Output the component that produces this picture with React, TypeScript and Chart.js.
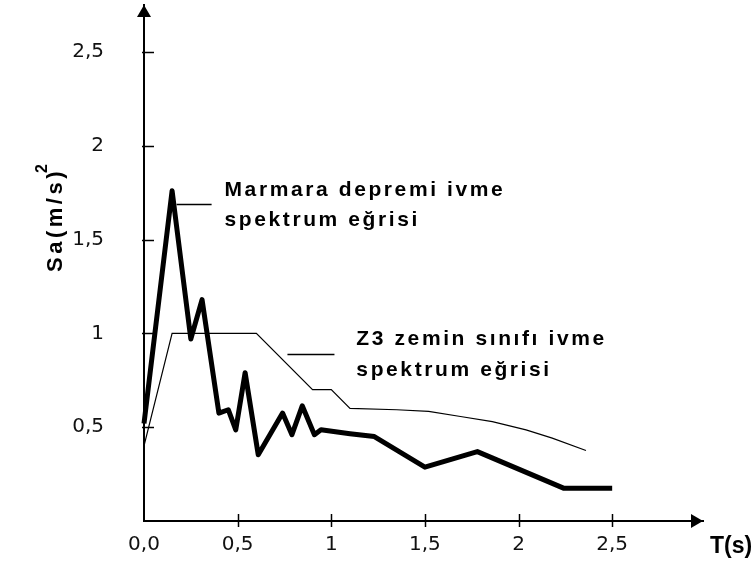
import React, { useEffect, useRef } from "react";
import { Chart, registerables } from "chart.js";

Chart.register(...registerables);

// ---- data ----
const periodsMarmara = [0, 0.15, 0.25, 0.31, 0.4, 0.45, 0.49, 0.54, 0.61, 0.74, 0.79, 0.845, 0.91, 0.945, 1.1, 1.23, 1.5, 1.78, 2.24, 2.5];
const saMarmara = [0.52, 1.76, 0.97, 1.18, 0.575, 0.593, 0.486, 0.79, 0.353, 0.575, 0.46, 0.614, 0.46, 0.486, 0.465, 0.45, 0.287, 0.37, 0.175, 0.175];
const periodsZ3 = [0, 0.15, 0.6, 0.9, 1.0, 1.1, 1.35, 1.52, 1.69, 1.86, 2.04, 2.18, 2.36];
const saZ3 = [0.4, 1.0, 1.0, 0.7, 0.7, 0.6, 0.593, 0.584, 0.557, 0.53, 0.486, 0.442, 0.376];

const xTicks = [0, 0.5, 1, 1.5, 2, 2.5];
const xTickLabels = ["0,0", "0,5", "1", "1,5", "2", "2,5"];
const yTicks = [0.5, 1, 1.5, 2, 2.5];
const yTickLabels = ["0,5", "1", "1,5", "2", "2,5"];

const marmaraLabel = ["Marmara depremi ivme", "spektrum eğrisi"];
const z3Label = ["Z3 zemin sınıfı ivme", "spektrum eğrisi"];
const xTitle = "T(s)";
const yTitle = "Sa(m/s)";
const yTitleSup = "2";

const BOLD = '"Liberation Sans", Arial, sans-serif';

const decorPlugin = {
  id: "decor",
  afterDraw(chart: any) {
    const ctx = chart.ctx as CanvasRenderingContext2D;
    const xs = chart.scales.x;
    const ys = chart.scales.y;
    const area = chart.chartArea;
    const x0 = area.left;
    const y0 = area.bottom;
    ctx.save();
    ctx.strokeStyle = "#000";
    ctx.fillStyle = "#000";
    ctx.lineWidth = 1.5;
    // tick marks
    xTicks.forEach((v) => {
      if (v === 0) return;
      const px = Math.round(xs.getPixelForValue(v)) + 0.5;
      ctx.beginPath();
      ctx.moveTo(px, y0 - 7);
      ctx.lineTo(px, y0 + 6);
      ctx.stroke();
    });
    yTicks.forEach((v) => {
      const py = Math.round(ys.getPixelForValue(v)) + 0.5;
      ctx.beginPath();
      ctx.moveTo(x0 - 2, py);
      ctx.lineTo(x0 + 10, py);
      ctx.stroke();
    });
    // arrow heads
    ctx.beginPath();
    ctx.moveTo(x0, area.top);
    ctx.lineTo(x0 - 7, area.top + 12);
    ctx.lineTo(x0 + 7, area.top + 12);
    ctx.closePath();
    ctx.fill();
    ctx.beginPath();
    ctx.moveTo(area.right, y0);
    ctx.lineTo(area.right - 12, y0 - 7);
    ctx.lineTo(area.right - 12, y0 + 7);
    ctx.closePath();
    ctx.fill();

    // leader lines
    ctx.lineWidth = 1.5;
    const lead = (xa: number, xb: number, yv: number) => {
      const py = Math.round(ys.getPixelForValue(yv)) + 0.5;
      ctx.beginPath();
      ctx.moveTo(xs.getPixelForValue(xa), py);
      ctx.lineTo(xs.getPixelForValue(xb), py);
      ctx.stroke();
    };
    lead(0.174, 0.361, 1.69);
    lead(0.766, 1.017, 0.891);

    // annotation text
    ctx.font = `bold 21px ${BOLD}`;
    (ctx as any).letterSpacing = "2.6px";
    ctx.textAlign = "left";
    ctx.textBaseline = "alphabetic";
    const txt = (lines: string[], xv: number, yv1: number, yv2: number) => {
      const px = xs.getPixelForValue(xv);
      ctx.fillText(lines[0], px, ys.getPixelForValue(yv1));
      ctx.fillText(lines[1], px, ys.getPixelForValue(yv2));
    };
    txt(marmaraLabel, 0.43, 1.733, 1.573);
    txt(z3Label, 1.134, 0.939, 0.773);

    // x title
    (ctx as any).letterSpacing = "0px";
    ctx.font = `bold 23px ${BOLD}`;
    ctx.fillText(xTitle, area.right + 7, y0 + 32);

    // y title (rotated), left of the tick labels
    ctx.save();
    ctx.translate(62, 272);
    ctx.rotate(-Math.PI / 2);
    ctx.font = `bold 22px ${BOLD}`;
    (ctx as any).letterSpacing = "3.5px";
    ctx.fillText(yTitle, 0, 0);
    const w = ctx.measureText(yTitle).width;
    ctx.font = `bold 16px ${BOLD}`;
    ctx.fillText(yTitleSup, w - 5, -15);
    ctx.restore();

    ctx.restore();
  },
};

export default function App() {
  const ref = useRef<HTMLCanvasElement | null>(null);
  useEffect(() => {
    if (!ref.current) return;
    const chart = new Chart(ref.current, {
      type: "line",
      data: {
        datasets: [
          {
            label: "Marmara depremi ivme spektrum eğrisi",
            data: periodsMarmara.map((x, i) => ({ x, y: saMarmara[i] })),
            borderColor: "#000",
            borderWidth: 5,
            borderJoinStyle: "round",
            pointRadius: 0,
            tension: 0,
            fill: false,
            clip: false,
          } as any,
          {
            label: "Z3 zemin sınıfı ivme spektrum eğrisi",
            data: periodsZ3.map((x, i) => ({ x, y: saZ3[i] })),
            borderColor: "#000",
            borderWidth: 1.2,
            pointRadius: 0,
            tension: 0,
            fill: false,
            clip: false,
          } as any,
        ],
      },
      options: {
        responsive: false,
        maintainAspectRatio: false,
        animation: false,
        layout: { padding: { top: 5, right: 50, left: 0, bottom: 0 } },
        plugins: { legend: { display: false }, tooltip: { enabled: false }, title: { display: false } },
        scales: {
          x: {
            type: "linear",
            min: 0,
            max: 2.985,
            afterFit: (s: any) => {
              s.height = 42;
              s.paddingLeft = 0;
              s.paddingRight = 0;
            },
            afterBuildTicks: (s: any) => {
              s.ticks = xTicks.map((v) => ({ value: v }));
            },
            ticks: {
              autoSkip: false,
              maxRotation: 0,
              padding: 12,
              color: "#111",
              font: { family: '"DejaVu Sans"', size: 20 },
              callback: (_v: any, i: number) => xTickLabels[i],
            },
            grid: { display: false, drawTicks: false },
            border: { display: true, color: "#000", width: 2 },
          },
          y: {
            type: "linear",
            min: 0,
            max: 2.75,
            afterFit: (s: any) => {
              s.width = 144;
              s.paddingTop = 0;
              s.paddingBottom = 0;
            },
            afterBuildTicks: (s: any) => {
              s.ticks = yTicks.map((v) => ({ value: v }));
            },
            ticks: {
              autoSkip: false,
              padding: 40,
              color: "#111",
              font: { family: '"DejaVu Sans"', size: 20 },
              callback: (_v: any, i: number) => yTickLabels[i],
            },
            grid: { display: false, drawTicks: false },
            border: { display: true, color: "#000", width: 2 },
          },
        },
      } as any,
      plugins: [decorPlugin],
    });
    return () => chart.destroy();
  }, []);
  return (
    <div style={{ position: "fixed", left: 0, top: 0, width: 753, height: 563, background: "#fff" }}>
      <canvas ref={ref} width={753} height={563} style={{ display: "block" }} />
    </div>
  );
}
